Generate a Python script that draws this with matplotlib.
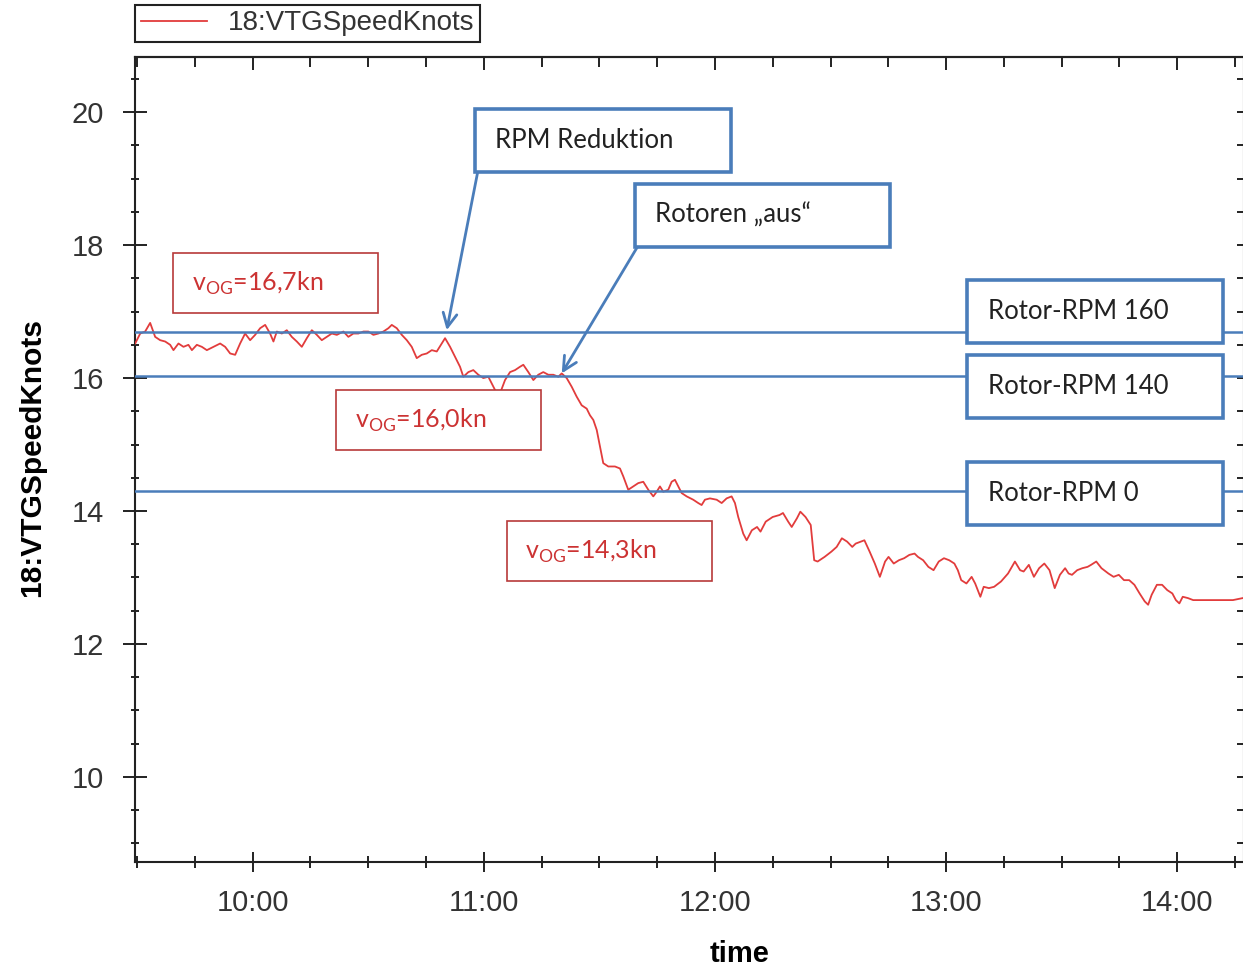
import matplotlib
matplotlib.use("Agg")
import matplotlib.pyplot as plt
import matplotlib.dates as mdates
from matplotlib.patches import Rectangle
from matplotlib.ticker import MultipleLocator, NullFormatter
import pandas as pd

# speed over ground
time_str = [
    "09:29:31", "09:30:49", "09:32:06", "09:33:24", "09:34:42", "09:36:00", "09:37:18", "09:38:36",
    "09:39:27", "09:40:45", "09:42:03", "09:43:20", "09:44:14", "09:45:31", "09:46:49", "09:48:07",
    "09:49:50", "09:51:34", "09:52:52", "09:54:10", "09:55:28", "09:56:45", "09:58:03", "09:59:21",
    "10:00:39", "10:01:57", "10:03:15", "10:04:32", "10:05:24", "10:06:17", "10:07:35", "10:08:52",
    "10:10:10", "10:11:28", "10:12:46", "10:14:04", "10:15:22", "10:16:40", "10:17:57", "10:19:15",
    "10:20:33", "10:21:51", "10:23:34", "10:24:51", "10:26:09", "10:27:27", "10:28:45", "10:30:03",
    "10:31:21", "10:32:38", "10:33:56", "10:35:14", "10:36:07", "10:37:25", "10:38:43", "10:40:01",
    "10:41:18", "10:42:36", "10:43:54", "10:45:12", "10:46:30", "10:47:48", "10:49:05", "10:49:57",
    "10:51:15", "10:52:33", "10:53:50", "10:54:42", "10:56:00", "10:57:17", "10:58:35", "10:59:53",
    "11:01:11", "11:02:04", "11:03:22", "11:04:13", "11:05:31", "11:06:49", "11:08:07", "11:09:24",
    "11:10:16", "11:11:34", "11:12:52", "11:14:09", "11:15:27", "11:16:45", "11:18:03", "11:19:21",
    "11:20:14", "11:21:31", "11:22:49", "11:24:07", "11:25:25", "11:26:43", "11:27:34", "11:28:26",
    "11:29:19", "11:30:10", "11:31:01", "11:32:19", "11:34:03", "11:35:21", "11:36:13", "11:37:30",
    "11:38:48", "11:40:06", "11:41:24", "11:42:42", "11:44:00", "11:44:53", "11:45:44", "11:46:35",
    "11:47:53", "11:48:46", "11:49:37", "11:50:29", "11:51:22", "11:52:40", "11:54:22", "11:55:40",
    "11:56:33", "11:57:24", "11:58:42", "12:00:27", "12:01:45", "12:03:02", "12:04:20", "12:05:12",
    "12:06:03", "12:07:21", "12:08:14", "12:09:35", "12:10:56", "12:11:50", "12:13:11", "12:14:59",
    "12:16:46", "12:17:40", "12:19:01", "12:19:56", "12:21:17", "12:22:10", "12:23:31", "12:24:52",
    "12:25:46", "12:26:39", "12:28:28", "12:30:15", "12:31:36", "12:32:57", "12:34:18", "12:35:39",
    "12:36:32", "12:37:53", "12:38:48", "12:40:09", "12:41:30", "12:42:49", "12:44:10", "12:45:04",
    "12:46:25", "12:47:46", "12:49:07", "12:50:28", "12:51:49", "12:52:42", "12:54:03", "12:55:24",
    "12:56:45", "12:58:06", "12:59:27", "13:00:48", "13:02:09", "13:03:03", "13:03:56", "13:05:17",
    "13:06:38", "13:07:33", "13:08:54", "13:09:46", "13:11:07", "13:12:28", "13:14:16", "13:16:05",
    "13:17:52", "13:19:13", "13:20:08", "13:21:29", "13:22:48", "13:24:09", "13:25:30", "13:26:51",
    "13:28:12", "13:29:33", "13:30:54", "13:31:48", "13:32:41", "13:34:02", "13:35:23", "13:36:44",
    "13:37:38", "13:38:59", "13:40:20", "13:42:08", "13:43:29", "13:44:50", "13:46:11", "13:47:32",
    "13:48:53", "13:50:14", "13:51:34", "13:52:27", "13:53:22", "13:54:43", "13:56:04", "13:57:25",
    "13:58:44", "13:59:39", "14:00:33", "14:01:26", "14:02:47", "14:04:08", "14:14:28", "14:16:59",
]
speed = [
    16.52, 16.67, 16.70, 16.83, 16.62, 16.57, 16.55, 16.50,
    16.42, 16.52, 16.47, 16.50, 16.42, 16.50, 16.47, 16.42,
    16.47, 16.52, 16.47, 16.37, 16.35, 16.52, 16.67, 16.57,
    16.65, 16.75, 16.80, 16.67, 16.55, 16.70, 16.67, 16.72,
    16.62, 16.55, 16.47, 16.60, 16.72, 16.65, 16.57, 16.62,
    16.67, 16.65, 16.70, 16.62, 16.67, 16.67, 16.70, 16.70,
    16.65, 16.67, 16.70, 16.75, 16.80, 16.75, 16.65, 16.57,
    16.47, 16.30, 16.35, 16.37, 16.42, 16.40, 16.52, 16.60,
    16.47, 16.32, 16.17, 16.02, 16.09, 16.12, 16.05, 16.00,
    16.02, 15.92, 15.77, 15.77, 15.97, 16.09, 16.12, 16.17,
    16.20, 16.09, 15.97, 16.05, 16.09, 16.05, 16.05, 16.02,
    16.07, 16.00, 15.87, 15.72, 15.59, 15.54, 15.44, 15.37,
    15.22, 14.97, 14.72, 14.67, 14.67, 14.64, 14.52, 14.32,
    14.37, 14.42, 14.44, 14.32, 14.22, 14.29, 14.37, 14.29,
    14.32, 14.44, 14.47, 14.37, 14.27, 14.22, 14.17, 14.12,
    14.09, 14.17, 14.19, 14.17, 14.12, 14.19, 14.22, 14.12,
    13.91, 13.66, 13.56, 13.71, 13.76, 13.69, 13.84, 13.91,
    13.94, 13.97, 13.84, 13.76, 13.89, 13.99, 13.91, 13.79,
    13.26, 13.24, 13.31, 13.39, 13.46, 13.59, 13.54, 13.46,
    13.51, 13.54, 13.56, 13.39, 13.21, 13.01, 13.24, 13.31,
    13.21, 13.26, 13.29, 13.34, 13.36, 13.31, 13.26, 13.16,
    13.11, 13.24, 13.29, 13.26, 13.21, 13.11, 12.96, 12.91,
    13.01, 12.91, 12.71, 12.86, 12.84, 12.86, 12.94, 13.06,
    13.24, 13.11, 13.09, 13.19, 13.01, 13.14, 13.21, 13.11,
    12.84, 13.04, 13.14, 13.06, 13.04, 13.11, 13.14, 13.16,
    13.19, 13.24, 13.14, 13.06, 13.01, 13.04, 12.96, 12.96,
    12.89, 12.76, 12.64, 12.59, 12.74, 12.89, 12.89, 12.81,
    12.76, 12.66, 12.61, 12.71, 12.69, 12.66, 12.66, 12.69,
]

rpm_levels = [16.70, 16.03, 14.30]
rpm_labels = ["Rotor-RPM 160", "Rotor-RPM 140", "Rotor-RPM 0"]
rpm_boxes = [(0.750, 0.645), (0.750, 0.552), (0.750, 0.419)]   # axes fraction, lower left

vog_labels = ["16,7", "16,0", "14,3"]
vog_boxes = [(0.034, 0.682), (0.181, 0.512), (0.335, 0.349)]

notes = ["RPM Reduktion", "Rotoren „aus“"]
note_boxes = [(0.307, 0.857), (0.451, 0.764)]
note_tip_time = ["10:50:23", "11:20:14"]
note_tip_val = [16.72, 16.07]

blue = "#4a7dba"
red_line = "#e23c3c"
red_box = "#b83a3a"
red_txt = "#cc3333"

t = pd.to_datetime(time_str, format="%H:%M:%S")
tips = pd.to_datetime(note_tip_time, format="%H:%M:%S")

plt.rcParams["font.family"] = ["Liberation Sans", "DejaVu Sans"]
box_font = ["Lato", "DejaVu Sans"]

fig = plt.figure(figsize=(12.43, 9.66), dpi=100)
ax = fig.add_axes([135 / 1243, 104 / 966, 1109 / 1243, 805 / 966])

ax.plot(t, speed, color=red_line, lw=1.3, label="18:VTGSpeedKnots", zorder=3)
for lvl in rpm_levels:
    ax.axhline(lvl, color=blue, lw=1.8, zorder=4)

ax.set_xlim(pd.Timestamp("1900-01-01 09:29:28"), pd.Timestamp("1900-01-01 14:17:20"))
ax.set_ylim(8.72, 20.83)

bw, bh = 0.231, 0.078
for (x0, y0), lab in zip(rpm_boxes, rpm_labels):
    ax.add_patch(Rectangle((x0, y0), bw, bh, transform=ax.transAxes, facecolor="white",
                           edgecolor=blue, lw=2.6, zorder=6, clip_on=False))
    ax.text(x0 + 0.019, y0 + bh / 2, lab, transform=ax.transAxes, va="center", ha="left",
            fontsize=18.5, color="#222222", family=box_font, zorder=7)

for (x0, y0), (tx, ty) in zip(note_boxes, zip(tips, note_tip_val)):
    ax.annotate("", xy=(tx, ty), xycoords="data", xytext=(x0 + 0.002, y0), textcoords="axes fraction",
                arrowprops=dict(arrowstyle="->,head_length=1.0,head_width=0.5", color=blue, lw=2,
                                shrinkA=0, shrinkB=0), zorder=5)
for (x0, y0), lab in zip(note_boxes, notes):
    ax.add_patch(Rectangle((x0, y0), 0.230, 0.078, transform=ax.transAxes, facecolor="white",
                           edgecolor=blue, lw=2.6, zorder=6, clip_on=False))
    ax.text(x0 + 0.018, y0 + 0.039, lab, transform=ax.transAxes, va="center", ha="left",
            fontsize=18.5, color="#222222", family=box_font, zorder=7)

for (x0, y0), val in zip(vog_boxes, vog_labels):
    ax.add_patch(Rectangle((x0, y0), 0.185, 0.074, transform=ax.transAxes, facecolor="white",
                           edgecolor=red_box, lw=1.2, zorder=6))
    ax.text(x0 + 0.017, y0 + 0.037, r"v$_{\mathregular{OG}}$=" + val + "kn", transform=ax.transAxes,
            va="center", ha="left", fontsize=18, color=red_txt, family=box_font, zorder=7)

# axes and ticks
ax.xaxis.set_major_locator(mdates.HourLocator())
ax.xaxis.set_minor_locator(mdates.MinuteLocator(byminute=[15, 30, 45]))
ax.xaxis.set_major_formatter(mdates.DateFormatter("%H:%M"))
ax.yaxis.set_major_locator(MultipleLocator(2))
ax.yaxis.set_minor_locator(MultipleLocator(0.5))
ax.tick_params(axis="x", which="major", direction="inout", length=15, width=1.4, pad=12,
               labelsize=21, labelcolor="#333333", color="#222222")
ax.tick_params(axis="x", which="minor", direction="inout", length=8, width=1.4, color="#222222")
ax.tick_params(axis="y", which="major", direction="inout", length=17, width=1.4, pad=14,
               labelsize=21, labelcolor="#333333", color="#222222")
ax.tick_params(axis="y", which="minor", direction="inout", length=6, width=1.4, color="#222222")

top = ax.secondary_xaxis("top")
top.xaxis.set_major_locator(mdates.HourLocator())
top.xaxis.set_minor_locator(mdates.MinuteLocator(byminute=[15, 30, 45]))
top.xaxis.set_major_formatter(NullFormatter())
top.tick_params(which="major", direction="in", length=9, width=1.4, color="#222222")
top.tick_params(which="minor", direction="in", length=7, width=1.4, color="#222222")

right = ax.secondary_yaxis("right")
right.yaxis.set_major_locator(MultipleLocator(2))
right.yaxis.set_minor_locator(MultipleLocator(0.5))
right.yaxis.set_major_formatter(NullFormatter())
right.tick_params(which="both", direction="in", length=5, width=1.4, color="#222222")

for a in (ax, top, right):
    for sp in a.spines.values():
        sp.set_linewidth(1.5)
        sp.set_color("#222222")

ax.set_ylabel("18:VTGSpeedKnots", fontsize=21.5, fontweight="bold")
ax.yaxis.set_label_coords(-0.080, 0.503)
ax.set_xlabel("time", fontsize=21, fontweight="bold")
ax.xaxis.set_label_coords(0.5455, -0.097)

leg = ax.legend(loc="lower left", bbox_to_anchor=(0.0, 1.0186), borderaxespad=0, fancybox=False,
                edgecolor="#222222", framealpha=1, fontsize=20, handlelength=2.4,
                handletextpad=0.75, borderpad=0.2, labelcolor="#333333")
leg.get_frame().set_linewidth(1.5)

fig.savefig("out.png", dpi=100)
